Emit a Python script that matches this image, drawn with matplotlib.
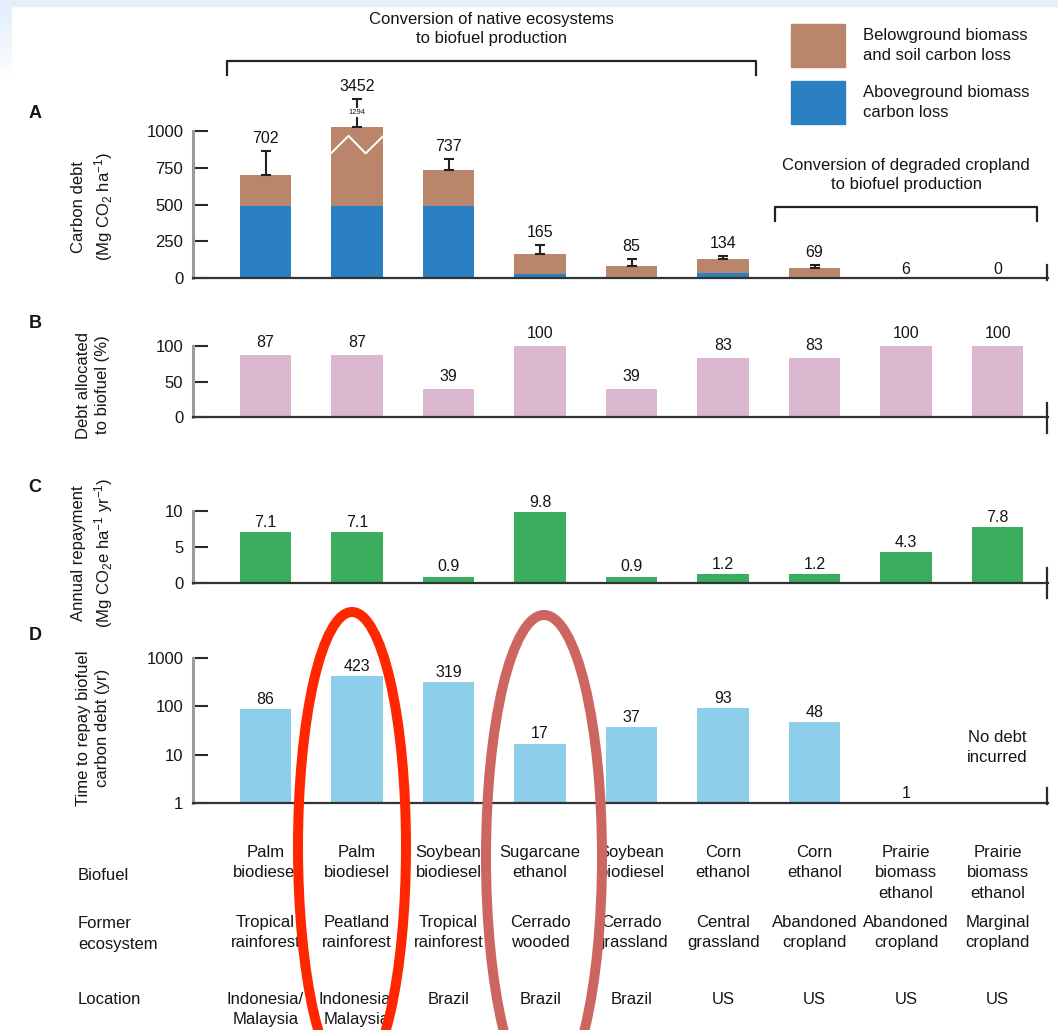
import matplotlib
matplotlib.use("Agg")
import matplotlib.pyplot as plt
import matplotlib.transforms as mtransforms
from matplotlib.patches import Rectangle, Ellipse
from matplotlib.lines import Line2D
from matplotlib.ticker import NullLocator

plt.rcParams['font.family'] = ['Liberation Sans', 'DejaVu Sans']
plt.rcParams['mathtext.fontset'] = 'custom'
plt.rcParams['mathtext.rm'] = 'Liberation Sans'
plt.rcParams['mathtext.it'] = 'Liberation Sans:italic'

# ---------------- data ----------------
biofuel = ["Palm\nbiodiesel", "Palm\nbiodiesel", "Soybean\nbiodiesel",
           "Sugarcane\nethanol", "Soybean\nbiodiesel", "Corn\nethanol",
           "Corn\nethanol", "Prairie\nbiomass\nethanol", "Prairie\nbiomass\nethanol"]
former_ecosystem = ["Tropical\nrainforest", "Peatland\nrainforest", "Tropical\nrainforest",
                    "Cerrado\nwooded", "Cerrado\ngrassland", "Central\ngrassland",
                    "Abandoned\ncropland", "Abandoned\ncropland", "Marginal\ncropland"]
location = ["Indonesia/\nMalaysia", "Indonesia/\nMalaysia", "Brazil", "Brazil", "Brazil",
            "US", "US", "US", "US"]

carbon_debt_total = [702, 3452, 737, 165, 85, 134, 69, 6, 0]      # Mg CO2 / ha
aboveground_loss = [490, 490, 490, 30, 0, 34, 8, 6, 0]           # Mg CO2 / ha
carbon_debt_err = [163, 1294, 75, 61, 48, 20, 20, 0, 0]
debt_allocated = [87, 87, 39, 100, 39, 83, 83, 100, 100]          # %
annual_repayment = [7.1, 7.1, 0.9, 9.8, 0.9, 1.2, 1.2, 4.3, 7.8]  # Mg CO2e / ha / yr
years_to_repay = [86, 423, 319, 17, 37, 93, 48, 1, None]          # yr

belowground_loss = [t - a for t, a in zip(carbon_debt_total, aboveground_loss)]

# ---------------- styling ----------------
W, H = 1058, 1030
C_ABOVE = '#2b80c2'
C_BELOW = '#b9866b'
C_PINK = '#dcb7d0'
C_GREEN = '#3bad5f'
C_SKY = '#8dcfea'
TXT = '#151515'
FS = 12
FS_VAL = 11.5

BREAK_TOP = 1030      # drawn height of the broken (off-scale) bar
BREAK_ERR_SHOWN = 190  # drawn length of its error bar

fig = plt.figure(figsize=(W / 100, H / 100), dpi=100)
fig.patch.set_facecolor('white')


def fx(px):
    return px / W


def fy(py):
    return 1 - py / H


def add_axes_px(left, top, right, bottom):
    return fig.add_axes([fx(left), fy(bottom), (right - left) / W, (bottom - top) / H])


# page tint along the top / left edge
fig.patches.append(Rectangle((0, fy(6)), 1, 6 / H, transform=fig.transFigure,
                             color='#e3effb', zorder=0))
for i in range(12):
    y1 = 12 + i * 6
    fig.patches.append(Rectangle((0, fy(y1)), 12 / W, 6 / H, transform=fig.transFigure,
                                 color='#e3effb', alpha=1 - i / 12, lw=0, zorder=0))

n = len(carbon_debt_total)
x = list(range(n))
XLIM = (-0.793, 8.551)
BW = 0.56
AX_L, AX_R = 193, 1048

axA = add_axes_px(AX_L, 278.3 - 1250 * 0.1473, AX_R, 278.3)
axB = add_axes_px(AX_L, 417 - 110 * 0.71, AX_R, 417)
axC = add_axes_px(AX_L, 583 - 11 * 7.2, AX_R, 583)
axD = add_axes_px(AX_L, 658, AX_R, 803)


def style(ax, ticks, labels, ylim, spine_bounds):
    for s in ('top', 'right'):
        ax.spines[s].set_visible(False)
    ax.patch.set_visible(False)
    ax.spines['left'].set_color('#9b9b9b')
    ax.spines['left'].set_linewidth(2.2)
    ax.spines['left'].set_bounds(*spine_bounds)
    ax.spines['bottom'].set_color('#333333')
    ax.spines['bottom'].set_linewidth(1.6)
    ax.set_xlim(*XLIM)
    ax.set_ylim(*ylim)
    ax.set_xticks([])
    ax.set_yticks(ticks)
    ax.set_yticklabels(labels)
    ax.yaxis.set_minor_locator(NullLocator())
    ax.tick_params(axis='y', direction='in', length=11, width=1.5, color='#2a2a2a',
                   pad=7, labelsize=FS, labelcolor=TXT)


def value_label(ax, xi, y, text, offset, size=FS_VAL):
    ax.annotate(text, xy=(xi, y), xytext=(0, offset), textcoords='offset points',
                ha='center', va='bottom', fontsize=size, color=TXT, annotation_clip=False)


def end_tick(top_px, bottom_px):
    fig.lines.append(Line2D([fx(AX_R - 1), fx(AX_R - 1)], [fy(top_px), fy(bottom_px)],
                            transform=fig.transFigure, color='#2a2a2a', lw=1.6))


# ---------------- panel A: carbon debt ----------------
style(axA, [0, 250, 500, 750, 1000], ['0', '250', '500', '750', '1000'], (0, 1250), (0, 1000))
drawn_total = [min(t, BREAK_TOP) for t in carbon_debt_total]
drawn_below = [d - a for d, a in zip(drawn_total, aboveground_loss)]
axA.bar(x, aboveground_loss, width=BW, color=C_ABOVE, zorder=2)
axA.bar(x, drawn_below, width=BW, bottom=aboveground_loss, color=C_BELOW, zorder=2)

for i in x:
    err = carbon_debt_err[i]
    top = drawn_total[i]
    broken = carbon_debt_total[i] > BREAK_TOP
    if err > 0:
        shown = BREAK_ERR_SHOWN if broken else err
        axA.errorbar([i], [top], yerr=[[0], [shown]], fmt='none', ecolor='#222222',
                     elinewidth=1.5, capsize=3.6, capthick=1.5, zorder=3, clip_on=False)
        if broken:
            axA.text(i, top + shown / 2, str(err), ha='center', va='center', fontsize=5.5,
                     color=TXT, zorder=4,
                     bbox=dict(boxstyle='square,pad=0.15', fc='white', ec='none'))
        value_label(axA, i, top + shown, str(carbon_debt_total[i]), 3.6)
    else:
        value_label(axA, i, top, str(carbon_debt_total[i]), 0.6)
    if broken:
        half = BW / 2
        axA.plot([i - half, i - half / 3, i + half / 3, i + half],
                 [852, 967, 848, 962], color='white', lw=1.4, zorder=3)
end_tick(265, 280)

# ---------------- panel B: share of debt allocated ----------------
style(axB, [0, 50, 100], ['0', '50', '100'], (0, 110), (0, 100))
axB.bar(x, debt_allocated, width=BW, color=C_PINK, zorder=2)
for i, v in enumerate(debt_allocated):
    value_label(axB, i, v, f"{v:g}", 3.6)
end_tick(403, 433)

# ---------------- panel C: annual repayment ----------------
style(axC, [0, 5, 10], ['0', '5', '10'], (0, 11), (0, 10))
axC.bar(x, annual_repayment, width=BW, color=C_GREEN, zorder=2)
for i, v in enumerate(annual_repayment):
    value_label(axC, i, v, f"{v:g}", 1.6)
end_tick(568, 598)

# ---------------- panel D: years to repay ----------------
axD.set_yscale('log')
style(axD, [1, 10, 100, 1000], ['1', '10', '100', '1000'], (1, 1000), (1, 1000))
for i, v in enumerate(years_to_repay):
    if v is None:
        axD.text(i, 0.38, "No debt\nincurred", transform=axD.get_xaxis_transform(),
                 ha='center', va='center', fontsize=FS, color=TXT, linespacing=1.4)
        continue
    axD.bar([i], [v - 1], bottom=1, width=BW, color=C_SKY, zorder=2)
    value_label(axD, i, v, f"{v:g}", 1.6)
end_tick(788, 804)

# ---------------- panel letters and y labels ----------------
for letter, ypx in zip("ABCD", (114, 324, 488, 636)):
    fig.text(fx(35), fy(ypx), letter, fontsize=13, fontweight='bold', color=TXT,
             ha='center', va='center')

ylabels = [
    ("Carbon debt\n(Mg CO$_2$ ha$^{-1}$)", 207),
    ("Debt allocated\nto biofuel (%)", 385),
    ("Annual repayment\n(Mg CO$_2$e ha$^{-1}$ yr$^{-1}$)", 553),
    ("Time to repay biofuel\ncarbon debt (yr)", 728),
]
for txt, ypx in ylabels:
    fig.text(fx(93), fy(ypx), txt, rotation=90, ha='center', va='center',
             fontsize=FS, color=TXT, multialignment='center', linespacing=1.4)

# ---------------- group brackets ----------------
blend = mtransforms.blended_transform_factory(axA.transData, fig.transFigure)
groups = [
    ("Conversion of native ecosystems\nto biofuel production", -0.42, 5.36, 61, 75, 29),
    ("Conversion of degraded cropland\nto biofuel production", 5.57, 8.43, 207, 221, 175),
]
for label, x0, x1, ybar, ydrop, ytext in groups:
    fig.lines.append(Line2D([x0, x0, x1, x1], [fy(ydrop), fy(ybar), fy(ybar), fy(ydrop)],
                            transform=blend, color='#222222', lw=1.6))
    fig.text((x0 + x1) / 2, fy(ytext), label, transform=blend, ha='center', va='center',
             fontsize=FS, color=TXT, linespacing=1.4)

# ---------------- legend ----------------
legend_items = [(C_BELOW, "Belowground biomass\nand soil carbon loss", 24, 67),
                (C_ABOVE, "Aboveground biomass\ncarbon loss", 81, 124)]
for col, label, t, b in legend_items:
    fig.patches.append(Rectangle((fx(791), fy(b)), 54 / W, (b - t) / H,
                                 transform=fig.transFigure, color=col, zorder=2))
    fig.text(fx(863), fy((t + b) / 2), label, ha='left', va='center', fontsize=FS,
             color=TXT, linespacing=1.4)

# ---------------- category table ----------------
row_labels = [("Biofuel", 875), ("Former\necosystem", 934), ("Location", 1000)]
for txt, ypx in row_labels:
    fig.text(fx(78), fy(ypx), txt, ha='left', va='center', fontsize=FS, color=TXT,
             linespacing=1.45)

tbl = mtransforms.blended_transform_factory(axD.transData, fig.transFigure)
for rows, ytop in ((biofuel, 845), (former_ecosystem, 915), (location, 992)):
    for i, txt in enumerate(rows):
        fig.text(i, fy(ytop), txt, transform=tbl, ha='center', va='top', fontsize=FS,
                 color=TXT, linespacing=1.45, multialignment='center')

# ---------------- highlight rings ----------------
fig.patches.append(Ellipse((fx(352), fy(847)), 108 / W, 470 / H, transform=fig.transFigure,
                           fill=False, ec='#ff2600', lw=7.2, zorder=10))
fig.patches.append(Ellipse((fx(544), fy(857)), 116 / W, 484 / H, transform=fig.transFigure,
                           fill=False, ec='#cd665f', lw=7.2, zorder=10))

fig.savefig("out.png", dpi=100)
